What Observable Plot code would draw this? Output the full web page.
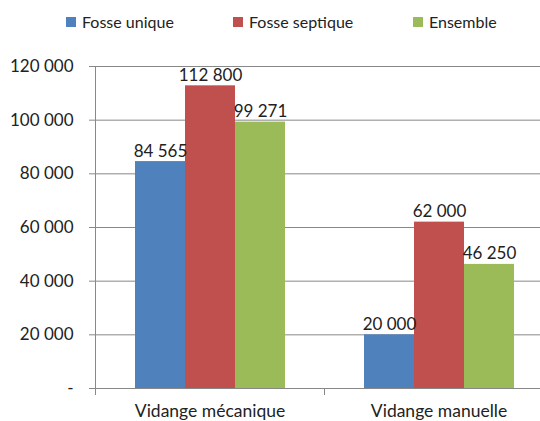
<!DOCTYPE html>
<html><head><meta charset="utf-8">
<script src="https://cdn.jsdelivr.net/npm/d3@7"></script>
<script src="https://cdn.jsdelivr.net/npm/@observablehq/plot@0.6"></script>
<style>
body{margin:0;background:#fff;font-family:Lato,"Open Sans",sans-serif;}
#wrap{width:540px;height:421px;overflow:hidden;position:relative;}
#legend{height:40px;position:relative;font-size:16px;color:#222;}
.item{position:absolute;top:12px;display:flex;align-items:center;white-space:nowrap;}
.sw{width:10px;height:10px;margin-right:6px;}
#chart svg{max-width:none !important;display:block;}
</style></head><body>
<div id="wrap"><div id="legend"></div><div id="chart"></div></div>
<script>
const categories = ["Vidange mécanique", "Vidange manuelle"];
const series = ["Fosse unique", "Fosse septique", "Ensemble"];
const colors = ["#4F81BD", "#C0504D", "#9BBB59"];
const fosseUnique = [84565, 20000];
const fosseSeptique = [112800, 62000];
const ensemble = [99271, 46250];
const yTicks = [0, 20000, 40000, 60000, 80000, 100000, 120000];

const values = [fosseUnique, fosseSeptique, ensemble];
const data = [];
categories.forEach((c, i) => series.forEach((s, j) => data.push({cat: c, serie: s, value: values[j][i]})));

const loc = d3.formatLocale({decimal: ",", thousands: " ", grouping: [3], currency: ["", " €"]});
const fmt = loc.format(",d");
const tickFmt = d => d === 0 ? "-" : fmt(d);

// legend
const legendX = [66, 233, 413];
const legend = document.getElementById("legend");
series.forEach((s, j) => {
  const it = document.createElement("div");
  it.className = "item";
  it.style.left = legendX[j] + "px";
  it.innerHTML = `<span class="sw" style="background:${colors[j]}"></span><span>${s}</span>`;
  legend.appendChild(it);
});

const chart = Plot.plot({
  width: 553,
  height: 381,
  marginLeft: 94,
  marginRight: 0,
  marginTop: 26,
  marginBottom: 33,
  style: {fontFamily: "Lato, 'Open Sans', sans-serif", fontSize: "16px", color: "#222", background: "#fff", overflow: "visible", maxWidth: "none"},
  fx: {domain: categories, padding: 0, label: null},
  x: {domain: series, paddingInner: 0, paddingOuter: 0.75, axis: null},
  y: {domain: [0, 120000], label: null},
  color: {domain: series, range: colors},
  marks: [
    Plot.gridY(yTicks, {stroke: "#888", strokeOpacity: 1, strokeWidth: 1}),
    Plot.barY(data, {fx: "cat", x: "serie", y: "value", fill: "serie"}),
    Plot.text(data, {fx: "cat", x: "serie", y: "value", text: d => fmt(d.value), lineAnchor: "bottom", dy: -5, fill: "#222", fontSize: 17}),
    Plot.ruleY([0], {stroke: "#888", strokeWidth: 1}),
    Plot.frame({anchor: "left", stroke: "#888", insetTop: 322, insetBottom: -6}),
    Plot.frame({anchor: "left", stroke: "#888", fx: () => categories[0]}),
    Plot.axisY({ticks: yTicks, tickFormat: tickFmt, tickSize: 6, tickPadding: 16, stroke: "#888", fontSize: 17, label: null}),
    Plot.axisFx({anchor: "bottom", tickSize: 0, tickPadding: 16, fontSize: 17.5, label: null})
  ]
});
document.getElementById("chart").appendChild(chart);
</script>
</body></html>
